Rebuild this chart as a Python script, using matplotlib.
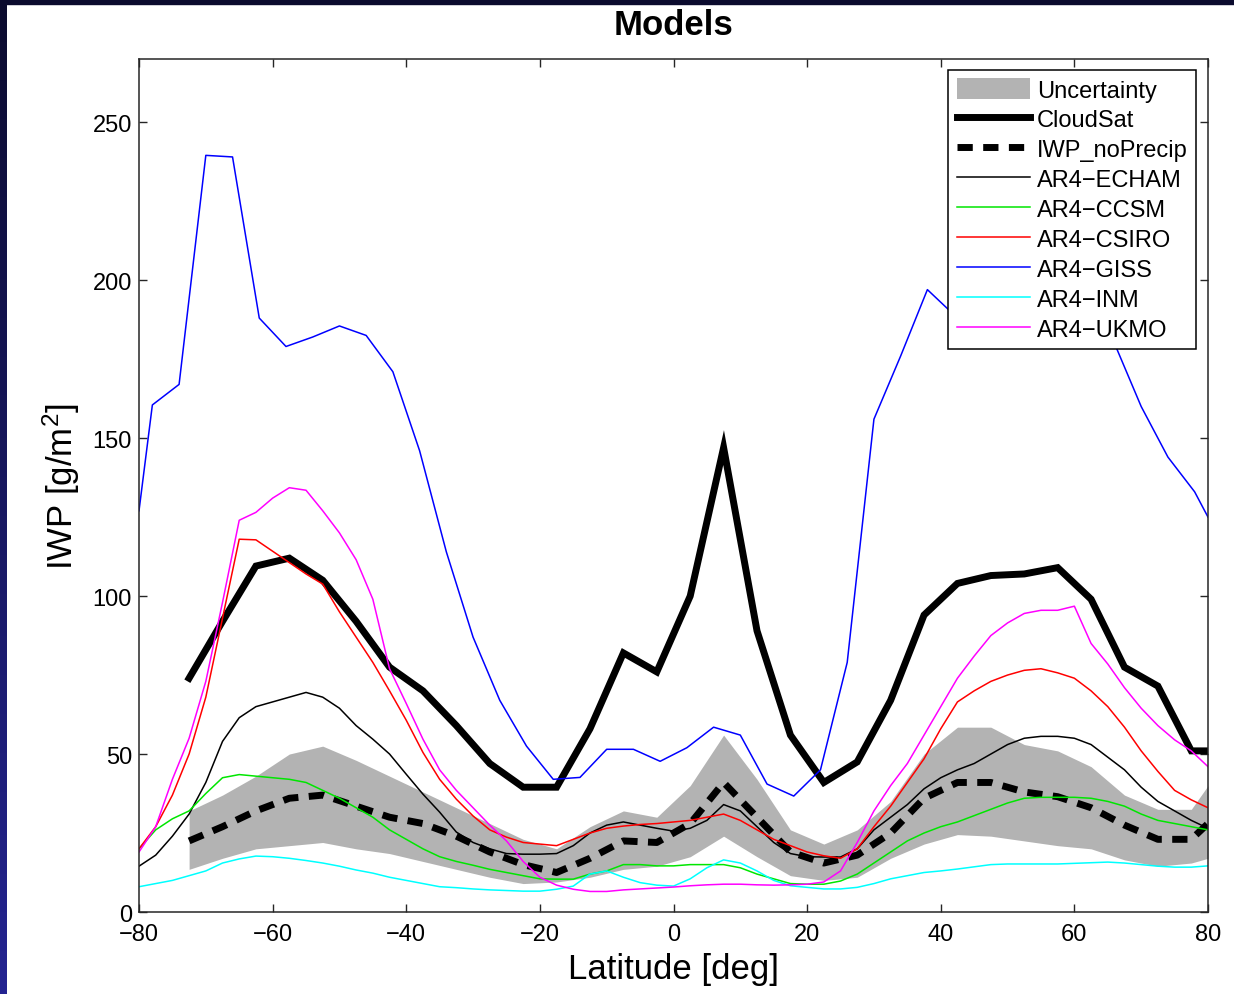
import numpy as np
import matplotlib
matplotlib.use("Agg")
import matplotlib.pyplot as plt
from matplotlib.patches import Rectangle

plt.rcParams['font.family'] = ['Liberation Sans', 'DejaVu Sans']
plt.rcParams['mathtext.fontset'] = 'custom'
plt.rcParams['mathtext.rm'] = 'Liberation Sans'
plt.rcParams['mathtext.default'] = 'regular'

# observation grid (5 deg) + right edge
lat_obs = [-72.5, -67.5, -62.5, -57.5, -52.5, -47.5, -42.5, -37.5, -32.5, -27.5,
           -22.5, -17.5, -12.5, -7.5, -2.5, 2.5, 7.5, 12.5, 17.5, 22.5,
           27.5, 32.5, 37.5, 42.5, 47.5, 52.5, 57.5, 62.5, 67.5, 72.5, 77.5, 80]
cloudsat = [74, 92, 109.5, 112, 105, 92, 77.5, 70, 59, 47,
            39.5, 39.5, 58, 82, 76, 100, 147, 89, 56, 41,
            47.5, 67, 94, 104, 106.5, 107, 109, 99, 77.5, 71.5, 51, 51]
iwp_noprecip = [22.5, 27, 32, 36, 37, 33.5, 30, 28, 24, 19,
                15, 12.5, 17, 22.5, 22, 28, 41, 30, 19, 15.5,
                18, 25, 36, 41, 41, 38, 36.5, 33, 27.5, 23, 23, 28]
unc_upper = [32, 37, 43, 50, 52.5, 48, 43, 38, 33, 28,
             23, 20, 27, 32, 30, 40, 56, 42, 26, 21.5,
             26, 35, 50, 58.5, 58.5, 53, 51, 46, 37, 32.5, 32.5, 40]
unc_lower = [13.5, 17, 20, 21, 22, 20, 18.5, 16, 13.5, 11,
             9, 9.5, 11, 13.5, 14.5, 17.5, 24, 17.5, 11.5, 10,
             11, 17, 21.5, 24.5, 24, 22.5, 21, 20, 16.5, 14.5, 15.5, 17]

# GISS grid (4 deg)
lat_giss = [-80, -78, -74, -70, -66, -62, -58, -54, -50, -46, -42, -38, -34, -30,
            -26, -22, -18, -14, -10, -6, -2, 2, 6, 10, 14, 18, 22, 26, 30, 34,
            38, 42, 46, 50, 54, 58, 62, 66, 70, 74, 78, 80]
giss = [127, 160.5, 167, 239.5, 239, 188, 179, 182, 185.5, 182.5, 171, 146, 114, 87,
        67, 52.5, 42, 42.6, 51.5, 51.5, 47.7, 52, 58.5, 56, 40.5, 36.7, 45, 79, 156, 176,
        197, 189, 188, 190, 192, 190, 186, 180, 160, 144, 133, 125]

# other models (2.5 deg)
lat_mod = [-80, -77.5, -75, -72.5, -70, -67.5, -65, -62.5, -60, -57.5, -55, -52.5, -50,
           -47.5, -45, -42.5, -40, -37.5, -35, -32.5, -30, -27.5, -25, -22.5, -20,
           -17.5, -15, -12.5, -10, -7.5, -5, -2.5, 0, 2.5, 5, 7.5, 10, 12.5, 15,
           17.5, 20, 22.5, 25, 27.5, 30, 32.5, 35, 37.5, 40, 42.5, 45, 47.5, 50,
           52.5, 55, 57.5, 60, 62.5, 65, 67.5, 70, 72.5, 75, 77.5, 80]
echam = [14.5, 18, 24, 31, 41, 54, 61.5, 65, 66.5, 68, 69.5, 68, 64.5,
         59, 54.7, 50, 43.6, 37.3, 31.6, 25.3, 22, 20, 18.5, 18.3, 18.3,
         18.5, 21, 25, 27.5, 28.5, 27.5, 26.5, 25.6, 26.5, 29, 34, 32, 27, 22,
         18.5, 17.5, 17.4, 17.4, 20, 26, 30, 34, 39, 42.5, 45, 47, 50, 53,
         55, 55.6, 55.6, 55, 53, 49, 45, 39.5, 35, 32, 29, 26.5]
ccsm = [20, 26, 29.5, 32, 37.5, 42.5, 43.5, 43, 42.5, 42, 41, 38.5, 36,
        33, 30, 26, 23, 20, 17.5, 16, 14.8, 13.5, 12.5, 11.5, 10.5,
        10.4, 10.4, 12, 13, 15, 15, 14.6, 14.6, 15, 15, 15, 14, 12, 10.5,
        9, 8.8, 8.8, 9.8, 12, 15.5, 19, 22.5, 25, 27, 28.5, 30.5, 32.5, 34.5,
        36, 36.3, 36.3, 36.3, 36, 35, 33.5, 31, 29, 28, 27, 26]
csiro = [20, 27, 37, 50, 68, 93, 118, 117.8, 114.2, 110.6, 107, 103.8, 95,
         87, 79, 70, 60.7, 50.5, 42, 35.7, 30.4, 26, 23.7, 22, 21.5,
         21, 23, 25, 26.5, 27.2, 27.7, 28, 28.5, 29, 30, 31, 29, 26, 23,
         21, 19, 17.8, 17, 20, 27, 33.5, 41, 48.5, 58, 66.5, 70, 73, 75,
         76.5, 77, 75.7, 74, 70, 65, 58.5, 51, 44.5, 38.5, 35.5, 33]
inm = [8, 9, 10, 11.5, 13, 15.5, 16.8, 17.7, 17.5, 17, 16.3, 15.5, 14.5,
       13.3, 12.3, 11, 10, 9, 8, 7.7, 7.3, 7, 6.8, 6.6, 6.6,
       7.2, 8.2, 12, 13, 11, 9.3, 8.5, 8.2, 10.5, 14, 16.5, 15.5, 13, 10,
       8.3, 7.8, 7.3, 7.3, 7.8, 9, 10.5, 11.5, 12.5, 13, 13.6, 14.3, 15, 15.2,
       15.2, 15.2, 15.2, 15.4, 15.6, 15.8, 15.5, 15, 14.5, 14.2, 14.2, 14.6]
ukmo = [19, 27, 42, 55, 73, 98, 124, 126.5, 131, 134.3, 133.5, 127, 120,
        111.5, 99, 77, 66, 54.7, 45, 38.5, 33, 27.5, 22.5, 16, 11,
        8.5, 7.2, 6.5, 6.5, 7, 7.3, 7.6, 7.9, 8.3, 8.6, 8.8, 8.8, 8.6, 8.5,
        8.6, 8.8, 9.5, 13, 22, 32, 40, 47, 56, 65, 74, 81, 87.5, 91.5,
        94.5, 95.5, 95.5, 96.8, 85, 78.5, 71, 64.5, 59, 54.5, 51, 46]

x_ticks = [-80, -60, -40, -20, 0, 20, 40, 60, 80]
y_ticks = [0, 50, 100, 150, 200, 250]

fig = plt.figure(figsize=(12.34, 9.95), dpi=100, facecolor='white')
ax = fig.add_axes([139 / 1234, 1 - 913 / 995, 1069 / 1234, 853 / 995])

ax.fill_between(lat_obs, unc_lower, unc_upper, color='#b3b3b3', linewidth=0,
                label='Uncertainty')
ax.plot(lat_obs, cloudsat, color='black', linewidth=5, solid_joinstyle='miter',
        label='CloudSat')
ax.plot(lat_obs, iwp_noprecip, color='black', linewidth=5, dashes=(2.2, 1.5),
        dash_capstyle='butt', label='IWP_noPrecip')
ax.plot(lat_mod, echam, color='black', linewidth=1.1, label='AR4\u2212ECHAM')
ax.plot(lat_mod, ccsm, color='#00e600', linewidth=1.1, label='AR4\u2212CCSM')
ax.plot(lat_mod, csiro, color='#ff0000', linewidth=1.1, label='AR4\u2212CSIRO')
ax.plot(lat_giss, giss, color='#0000ff', linewidth=1.1, label='AR4\u2212GISS')
ax.plot(lat_mod, inm, color='#00ffff', linewidth=1.1, label='AR4\u2212INM')
ax.plot(lat_mod, ukmo, color='#ff00ff', linewidth=1.1, label='AR4\u2212UKMO')

ax.set_xlim(-80, 80)
ax.set_ylim(0, 270)
ax.set_xticks(x_ticks)
ax.set_yticks(y_ticks)
ax.tick_params(direction='in', length=6, width=1.0, top=True, right=True,
               labelsize=17, color='#262626')
ax.tick_params(axis='x', pad=8)
ax.tick_params(axis='y', pad=5)
for s in ax.spines.values():
    s.set_linewidth(1.1)
    s.set_color('#262626')

ax.set_xlabel('Latitude [deg]', fontsize=25, labelpad=5)
ax.set_ylabel('IWP [g/m$^2$]', fontsize=25, labelpad=8)
ax.set_title('Models', fontsize=25, fontweight='bold', pad=18)

leg = ax.legend(loc='upper right', bbox_to_anchor=(0.9888, 0.9871), borderaxespad=0,
                fontsize=17, handlelength=3.1, handletextpad=0.3, handleheight=0.95,
                labelspacing=0.28, borderpad=0.35, fancybox=False, framealpha=1,
                edgecolor='black')
leg.get_frame().set_linewidth(1.1)

# slide background strips
fig.patches.append(Rectangle((0, 1 - 5 / 995), 1, 5 / 995, transform=fig.transFigure,
                             color='#0b0b2e', zorder=10))
gax = fig.add_axes([0, 0, 7 / 1234, 1])
grad = np.linspace(0, 1, 256).reshape(-1, 1)
top_c = np.array([11, 11, 46]) / 255
bot_c = np.array([36, 36, 145]) / 255
img = top_c[None, None, :] * (1 - grad[:, :, None]) + bot_c[None, None, :] * grad[:, :, None]
gax.imshow(img, aspect='auto', extent=(0, 1, 0, 1))
gax.axis('off')

fig.savefig('out.png', dpi=100, facecolor='white')
